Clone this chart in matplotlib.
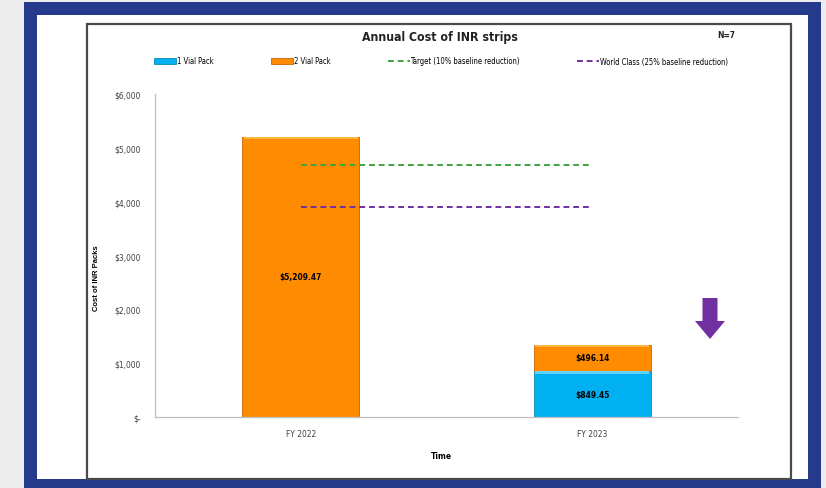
import numpy as np
import matplotlib.pyplot as plt
from matplotlib.patches import Rectangle, FancyArrow
from matplotlib.ticker import FuncFormatter

plt.rcParams['font.family'] = ['DejaVu Sans']
plt.rcParams['font.stretch'] = 'condensed'

# chart data
years = ["FY 2022", "FY 2023"]
one_vial = [0.0, 849.45]
two_vial = [5209.47, 496.14]
baseline = 5209.47
target = baseline * 0.90        # 10% baseline reduction
world_class = baseline * 0.75   # 25% baseline reduction

W, H = 826, 489
fig = plt.figure(figsize=(W / 100, H / 100), dpi=100)

def px(x0, y0, x1, y1):
    # pixel box (top-left origin) -> figure fraction rect
    return (x0 / W, 1 - y1 / H, (x1 - x0) / W, (y1 - y0) / H)

def box(x0, y0, x1, y1, **kw):
    r = px(x0, y0, x1, y1)
    fig.patches.append(Rectangle(r[:2], r[2], r[3], transform=fig.transFigure, **kw))

# slide background: grey strip, blue frame, white panel, chart border
box(0, 0, W, H, facecolor='#ececec', edgecolor='none', zorder=-5)
box(24, 3, 821, 489, facecolor='#263a8c', edgecolor='none', zorder=-4)
box(37, 16, 808, 480, facecolor='white', edgecolor='none', zorder=-3)
box(87, 25, 791, 480, facecolor='white', edgecolor='#4a4a4a', linewidth=1.6, zorder=-2)

ax = fig.add_axes(px(155, 95, 738, 418))
ax.set_facecolor('none')
x = np.arange(len(years))
width = 0.4

b1 = ax.bar(x, one_vial, width, color='#00b0f0', edgecolor='#0a8ab8',
            linewidth=0.6, label='1 Vial Pack', zorder=2)
b2 = ax.bar(x, two_vial, width, bottom=one_vial, color='#ff8c00',
            edgecolor='#c86400', linewidth=0.6, label='2 Vial Pack', zorder=2)

# light bevel strip along the top of each segment
bevel = 45
tops1 = np.array(one_vial)
tops2 = np.array(one_vial) + np.array(two_vial)
for i in range(len(years)):
    if one_vial[i] > 0:
        ax.bar(x[i], bevel, width * 0.98, bottom=tops1[i] - bevel,
               color='#5fd4ff', linewidth=0, zorder=3)
    ax.bar(x[i], bevel, width * 0.98, bottom=tops2[i] - bevel,
           color='#ffb43c', linewidth=0, zorder=3)

l1 = ax.hlines(target, x[0], x[1], colors='#3fa33f', linestyles=(0, (3, 2)),
               linewidth=1.4, label='Target (10% baseline reduction)', zorder=4)
l2 = ax.hlines(world_class, x[0], x[1], colors='#7030a0', linestyles=(0, (3, 2)),
               linewidth=1.4, label='World Class (25% baseline reduction)', zorder=4)

# value labels in the middle of each segment
for i in range(len(years)):
    if one_vial[i] > 0:
        ax.text(x[i], one_vial[i] / 2, f"${one_vial[i]:,.2f}", ha='center',
                va='center', fontsize=6, fontweight='bold', zorder=5)
    ax.text(x[i], one_vial[i] + two_vial[i] / 2, f"${two_vial[i]:,.2f}",
            ha='center', va='center', fontsize=6, fontweight='bold', zorder=5)

ax.set_xlim(-0.5, 1.5)
ax.set_ylim(0, 6000)
ax.set_yticks(np.arange(0, 6001, 1000))
ax.yaxis.set_major_formatter(FuncFormatter(
    lambda v, p: "$-" if v == 0 else f"${v:,.0f}"))
ax.set_xticks(x)
ax.set_xticklabels(years)
ax.tick_params(length=0, labelsize=6, colors='#404040', pad=9)
ax.tick_params(axis='y', pad=10)
for s in ['top', 'right']:
    ax.spines[s].set_visible(False)
for s in ['left', 'bottom']:
    ax.spines[s].set_color('#bfbfbf')
    ax.spines[s].set_linewidth(0.9)

fig.text(440 / W, 1 - 38 / H, "Annual Cost of INR strips", ha='center',
         va='center', fontsize=8.8, fontweight='bold', color='#222222')
fig.text(726 / W, 1 - 36 / H, "N=7", ha='center', va='center',
         fontsize=6, fontweight='bold', color='#222222')
fig.text(97 / W, 1 - 278 / H, "Cost of INR Packs", rotation=90, ha='center',
         va='center', fontsize=5.5, fontweight='bold', family='Liberation Sans',
         stretch='normal')
fig.text(441 / W, 1 - 457 / H, "Time", ha='center', va='center',
         fontsize=6, fontweight='bold')

fig.legend(handles=[b1, b2, l1, l2], loc='center',
           bbox_to_anchor=(441 / W, 1 - 62 / H), ncol=4,
           frameon=False, fontsize=5.5, handlelength=2.9, handleheight=0.7,
           handletextpad=0.1, columnspacing=7.5)

# downward arrow beside FY 2023
fig.patches.append(FancyArrow(710 / W, 1 - 299 / H, 0, -(41 / H), width=15 / W,
                              head_width=30 / W, head_length=18 / H,
                              length_includes_head=True, transform=fig.transFigure,
                              facecolor='#7030a0', edgecolor='none', zorder=5))

fig.savefig("out.png", dpi=100)
